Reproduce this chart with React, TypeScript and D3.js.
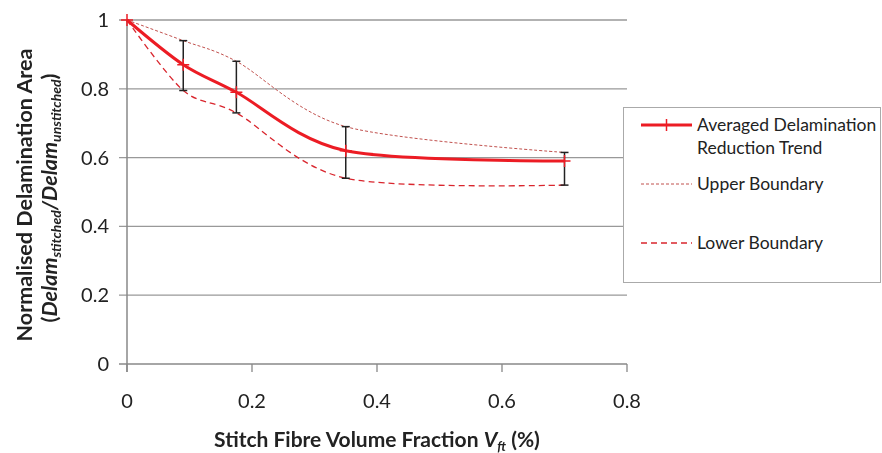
import { useEffect, useRef } from 'react';
import * as d3 from 'd3';

// stitch fibre volume fraction (%)
const fractions = [0, 0.09, 0.175, 0.35, 0.7];
const averaged = [1, 0.87, 0.79, 0.62, 0.59];
const upper = [1, 0.94, 0.88, 0.69, 0.615];
const lower = [1, 0.795, 0.73, 0.54, 0.52];
const xTicks = [0, 0.2, 0.4, 0.6, 0.8];
const yTicks = [0, 0.2, 0.4, 0.6, 0.8, 1];

const Chart = () => {
  const ref = useRef<SVGSVGElement>(null);

  useEffect(() => {
    const width = 882;
    const height = 453;
    const marginLeft = 127;
    const marginRight = 255;
    const marginTop = 20;
    const marginBottom = 89;
    const font = 'Lato, "Open Sans", sans-serif';

    const svg = d3.select(ref.current);
    svg.selectAll('*').remove();

    const x = d3.scaleLinear().domain([0, 0.8]).range([marginLeft, width - marginRight]);
    const y = d3.scaleLinear().domain([0, 1]).range([height - marginBottom, marginTop]);

    // gridlines
    svg
      .append('g')
      .selectAll('line')
      .data(yTicks.filter((d) => d > 0))
      .join('line')
      .attr('x1', x(0) - 8)
      .attr('x2', x(0.8))
      .attr('y1', (d) => y(d))
      .attr('y2', (d) => y(d))
      .attr('stroke', '#999')
      .attr('stroke-width', 1.3);

    // axes
    const axisColor = '#888';
    svg
      .append('line')
      .attr('x1', x(0))
      .attr('x2', x(0))
      .attr('y1', y(1))
      .attr('y2', y(0) + 8)
      .attr('stroke', axisColor)
      .attr('stroke-width', 1.5);
    svg
      .append('line')
      .attr('x1', x(0) - 8)
      .attr('x2', x(0.8))
      .attr('y1', y(0))
      .attr('y2', y(0))
      .attr('stroke', axisColor)
      .attr('stroke-width', 1.5);
    svg
      .append('g')
      .selectAll('line')
      .data(xTicks)
      .join('line')
      .attr('x1', (d) => x(d))
      .attr('x2', (d) => x(d))
      .attr('y1', y(0))
      .attr('y2', y(0) + 8)
      .attr('stroke', axisColor)
      .attr('stroke-width', 1.3);

    svg
      .append('g')
      .selectAll('text')
      .data(yTicks)
      .join('text')
      .attr('x', x(0) - 18)
      .attr('y', (d) => y(d) + 7)
      .attr('text-anchor', 'end')
      .attr('font-family', font)
      .attr('font-size', 20)
      .attr('fill', '#222')
      .text((d) => (d === 0 || d === 1 ? String(d) : d.toFixed(1)));

    svg
      .append('g')
      .selectAll('text')
      .data(xTicks)
      .join('text')
      .attr('x', (d) => x(d))
      .attr('y', 408)
      .attr('text-anchor', 'middle')
      .attr('font-family', font)
      .attr('font-size', 20)
      .attr('fill', '#222')
      .text((d) => (d === 0 ? '0' : d.toFixed(1)));

    // titles
    const xt = svg
      .append('text')
      .attr('x', 377)
      .attr('y', 447)
      .attr('text-anchor', 'middle')
      .attr('font-family', font)
      .attr('font-size', 21)
      .attr('font-weight', 'bold')
      .attr('fill', '#222');
    xt.append('tspan').text('Stitch Fibre Volume Fraction ');
    xt.append('tspan').attr('font-style', 'italic').text('V');
    xt.append('tspan').attr('font-style', 'italic').attr('font-size', 13).attr('dy', 4).text('ft');
    xt.append('tspan').attr('dy', -4).text(' (%)');

    svg
      .append('text')
      .attr('transform', 'translate(32,195) rotate(-90)')
      .attr('text-anchor', 'middle')
      .attr('font-family', font)
      .attr('font-size', 21.5)
      .attr('font-weight', 'bold')
      .attr('fill', '#222')
      .text('Normalised Delamination Area');

    const yt2 = svg
      .append('text')
      .attr('transform', 'translate(57,198) rotate(-90)')
      .attr('text-anchor', 'middle')
      .attr('font-family', font)
      .attr('font-size', 21.5)
      .attr('font-weight', 'bold')
      .attr('fill', '#222');
    yt2.append('tspan').text('(');
    yt2.append('tspan').attr('font-style', 'italic').text('Delam');
    yt2.append('tspan').attr('font-style', 'italic').attr('font-size', 14).attr('dy', 4).text('stitched');
    yt2.append('tspan').attr('dy', -4).attr('font-style', 'italic').text('/Delam');
    yt2.append('tspan').attr('font-style', 'italic').attr('font-size', 14).attr('dy', 4).text('unstitched');
    yt2.append('tspan').attr('dy', -4).text(')');

    const line = (vals: number[]) =>
      d3
        .line<number>()
        .x((_, i) => x(fractions[i]))
        .y((d) => y(d))
        .curve(d3.curveCardinal.tension(0.1))(vals);

    const upperColor = '#c0504d';
    const lowerColor = '#d9262e';
    const avgColor = '#ec1c24';

    svg
      .append('path')
      .attr('d', line(upper))
      .attr('fill', 'none')
      .attr('stroke', upperColor)
      .attr('stroke-width', 1)
      .attr('stroke-dasharray', '3,2');
    svg
      .append('path')
      .attr('d', line(lower))
      .attr('fill', 'none')
      .attr('stroke', lowerColor)
      .attr('stroke-width', 1.3)
      .attr('stroke-dasharray', '6,4');

    // error bars
    const eb = svg
      .append('g')
      .selectAll('g')
      .data(fractions.map((f, i) => ({ f, hi: upper[i], lo: lower[i] })).filter((d) => d.f > 0))
      .join('g')
      .attr('stroke', '#222')
      .attr('stroke-width', 1.5);
    eb.append('line')
      .attr('x1', (d) => x(d.f))
      .attr('x2', (d) => x(d.f))
      .attr('y1', (d) => y(d.hi))
      .attr('y2', (d) => y(d.lo));
    eb.append('line')
      .attr('x1', (d) => x(d.f) - 4)
      .attr('x2', (d) => x(d.f) + 4)
      .attr('y1', (d) => y(d.hi))
      .attr('y2', (d) => y(d.hi));
    eb.append('line')
      .attr('x1', (d) => x(d.f) - 4)
      .attr('x2', (d) => x(d.f) + 4)
      .attr('y1', (d) => y(d.lo))
      .attr('y2', (d) => y(d.lo));

    svg
      .append('path')
      .attr('d', line(averaged))
      .attr('fill', 'none')
      .attr('stroke', avgColor)
      .attr('stroke-width', 3);

    svg
      .append('g')
      .selectAll('path')
      .data(averaged)
      .join('path')
      .attr('d', (d, i) => {
        const cx = x(fractions[i]);
        const cy = y(d);
        return `M${cx - 6},${cy}H${cx + 6}M${cx},${cy - 6}V${cy + 6}`;
      })
      .attr('stroke', avgColor)
      .attr('stroke-width', 1.5);

    // legend
    const lg = svg.append('g');
    lg.append('rect')
      .attr('x', 623.5)
      .attr('y', 107.5)
      .attr('width', 257)
      .attr('height', 175)
      .attr('fill', 'white')
      .attr('stroke', '#aaa')
      .attr('stroke-width', 1);
    const items = [
      { lines: ['Averaged Delamination', 'Reduction Trend'], y: 125, color: avgColor, w: 3, dash: null },
      { lines: ['Upper Boundary'], y: 184, color: upperColor, w: 1, dash: '3,2' },
      { lines: ['Lower Boundary'], y: 243, color: lowerColor, w: 1.3, dash: '6,4' },
    ];
    items.forEach((it) => {
      lg.append('line')
        .attr('x1', 641)
        .attr('x2', 692)
        .attr('y1', it.y)
        .attr('y2', it.y)
        .attr('stroke', it.color)
        .attr('stroke-width', it.w)
        .attr('stroke-dasharray', it.dash);
      it.lines.forEach((t, j) => {
        lg.append('text')
          .attr('x', 697)
          .attr('y', it.y + 6 + j * 23)
          .attr('font-family', font)
          .attr('font-size', 17.5)
          .attr('fill', '#222')
          .text(t);
      });
    });
    lg.append('path')
      .attr('d', 'M666.5,119V131')
      .attr('stroke', avgColor)
      .attr('stroke-width', 1.5);
  }, [ref]);

  return <svg width={882} height={453} ref={ref} style={{ display: 'block' }} />;
};

export default function App() {
  return (
    <div style={{ position: 'fixed', left: 0, top: 0 }}>
      <Chart />
    </div>
  );
}
